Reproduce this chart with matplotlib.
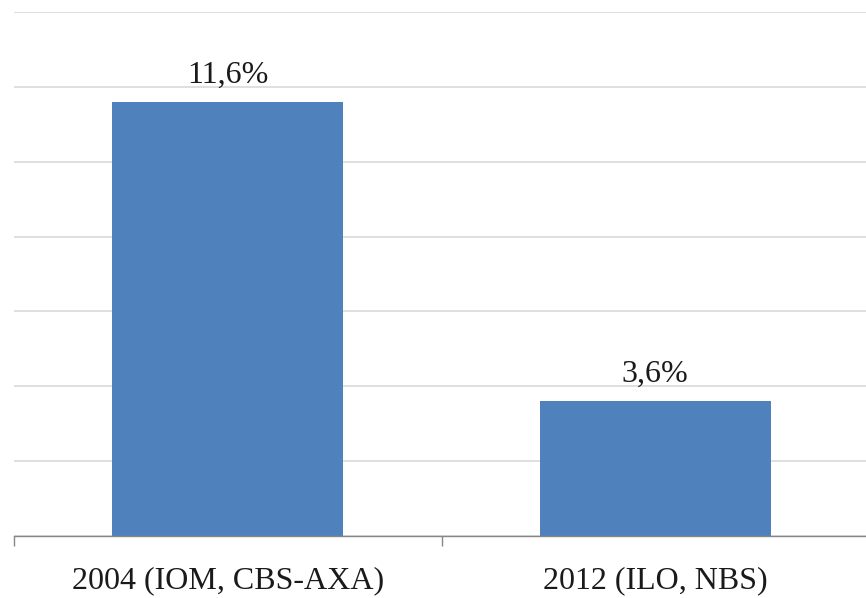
import matplotlib
matplotlib.use("Agg")
import matplotlib.pyplot as plt

# data
categories = ["2004 (IOM, CBS-AXA)", "2012 (ILO, NBS)"]
values = [11.6, 3.6]
value_labels = ["11,6%", "3,6%"]

plt.rcParams['font.family'] = ['Liberation Serif', 'DejaVu Serif']

fig = plt.figure(figsize=(8.66, 5.98), dpi=100)
ax = fig.add_axes([14 / 866, 1 - 536 / 598, (869 - 14) / 866, (536 - 12) / 598])

x = range(len(categories))
bars = ax.bar(x, values, width=0.54, color="#4F81BD", zorder=3)

for b, lab in zip(bars, value_labels):
    ax.annotate(lab, (b.get_x() + b.get_width() / 2, b.get_height()),
                xytext=(0, 9), textcoords="offset points",
                ha="center", va="bottom", fontsize=23, color="#1a1a1a")

ax.set_xlim(-0.5, 1.5)
ax.set_ylim(0, 14)
ax.set_yticks(range(0, 15, 2))
ax.yaxis.grid(True, color="#D9D9D9", linewidth=1.2, zorder=0)
ax.tick_params(axis="y", left=False, labelleft=False)

ax.set_xticks(list(x))
ax.set_xticklabels(categories, fontsize=23, color="#1a1a1a")
ax.tick_params(axis="x", which="major", length=0, pad=22)
ax.set_xticks([-0.5, 0.5, 1.5], minor=True)
ax.tick_params(axis="x", which="minor", length=7, width=1, color="#868686")

for s in ["top", "right", "left"]:
    ax.spines[s].set_visible(False)
ax.spines["bottom"].set_color("#868686")
ax.spines["bottom"].set_linewidth(1)
ax.spines["bottom"].set_zorder(4)

fig.savefig("out.png", dpi=100)
